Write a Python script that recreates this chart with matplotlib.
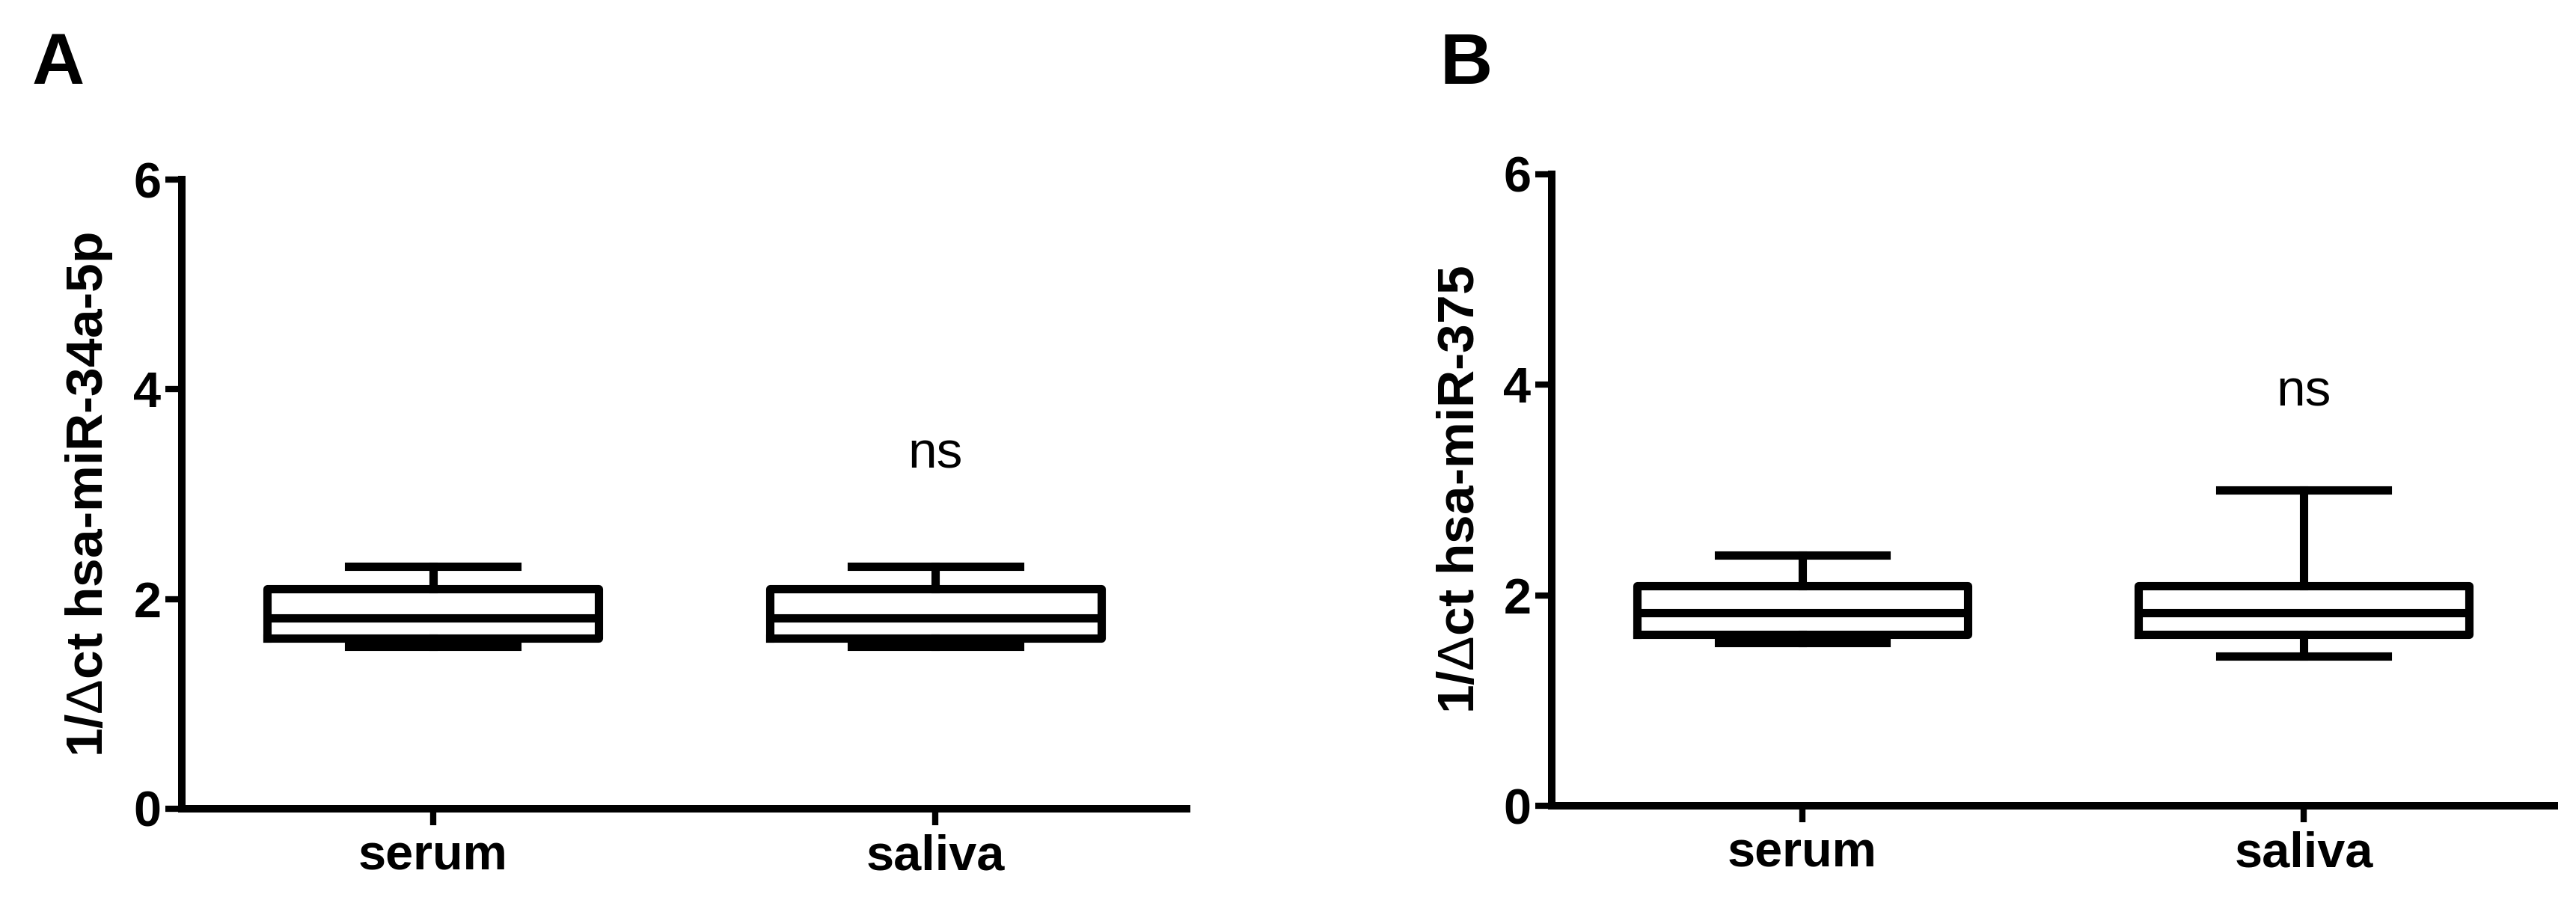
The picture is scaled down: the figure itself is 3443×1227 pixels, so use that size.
import matplotlib
matplotlib.use("Agg")
import matplotlib.pyplot as plt

plt.rcParams["font.family"] = ["Liberation Sans", "DejaVu Sans"]
plt.rcParams["mathtext.fontset"] = "custom"
plt.rcParams["mathtext.rm"] = "Liberation Sans"

categories = ["serum", "saliva"]

# panel A: hsa-miR-34a-5p, box = min / q1 / median / q3 / max
a_whislo = [1.55, 1.55]
a_q1 = [1.63, 1.63]
a_med = [1.82, 1.82]
a_q3 = [2.10, 2.10]
a_whishi = [2.31, 2.31]

# panel B: hsa-miR-375
b_whislo = [1.55, 1.42]
b_q1 = [1.63, 1.63]
b_med = [1.835, 1.835]
b_q3 = [2.09, 2.09]
b_whishi = [2.38, 3.00]

y_ticks = [0, 2, 4, 6]
sig_label = "ns"

LW = 4.0


def draw_panel(ax, whislo, q1, med, q3, whishi, ylabel, ns_y):
    stats = []
    for c, lo, a, m, b, hi in zip(categories, whislo, q1, med, q3, whishi):
        stats.append(dict(label=c, whislo=lo, q1=a, med=m, q3=b, whishi=hi))
    line = dict(color="black", linewidth=LW)
    ax.bxp(stats, positions=[1, 2], widths=0.66, capwidths=0.335, showfliers=False,
           boxprops=line, whiskerprops=line, capprops=line, medianprops=line)
    ax.set_xlim(0.5, 2.5)
    ax.set_ylim(0, 6)
    ax.set_yticks(y_ticks)
    for s in ["top", "right"]:
        ax.spines[s].set_visible(False)
    for s in ["left", "bottom"]:
        ax.spines[s].set_linewidth(3.6)
    ax.tick_params(axis="both", direction="out", length=7.9, width=3.0, labelsize=24)
    ax.tick_params(axis="y", pad=2)
    ax.tick_params(axis="x", pad=4)
    for t in ax.get_xticklabels() + ax.get_yticklabels():
        t.set_fontweight("bold")
    ax.set_ylabel(ylabel, fontsize=25, fontweight="bold", labelpad=9)
    ax.text(2, ns_y, sig_label, ha="center", va="baseline", fontsize=25)


fig = plt.figure(figsize=(17.215, 6.135), dpi=200)
ax_a = fig.add_axes([0.0706, 0.119, 0.390, 0.6854])
ax_b = fig.add_axes([0.6024, 0.1222, 0.3892, 0.688])

draw_panel(ax_a, a_whislo, a_q1, a_med, a_q3, a_whishi, "1/$\\Delta$ct hsa-miR-34a-5p", 3.25)
draw_panel(ax_b, b_whislo, b_q1, b_med, b_q3, b_whishi, "1/$\\Delta$ct hsa-miR-375", 3.80)

fig.text(0.0125, 0.9087, "A", fontsize=35, fontweight="bold", va="baseline", ha="left")
fig.text(0.5591, 0.9087, "B", fontsize=35, fontweight="bold", va="baseline", ha="left")

fig.savefig("out.png", dpi=200, facecolor="white")
